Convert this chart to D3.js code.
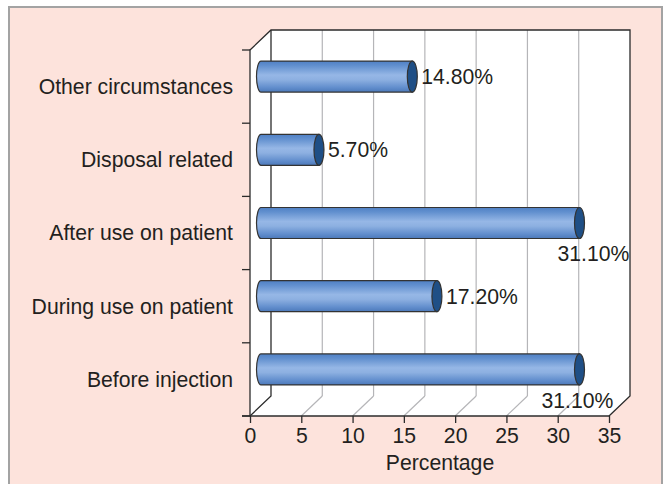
<!DOCTYPE html>
<html>
<head>
<meta charset="utf-8">
<script src="https://cdn.jsdelivr.net/npm/d3@7"></script>
<style>
  html, body { margin: 0; padding: 0; background: #ffffff; }
  svg { display: block; }
  text { font-family: "Liberation Sans", Arial, Helvetica, sans-serif; fill: #231f20; }
</style>
</head>
<body>
<script>
// ---- data ----
const categories = ["Other circumstances", "Disposal related", "After use on patient", "During use on patient", "Before injection"];
const values = [14.8, 5.7, 31.1, 17.2, 31.1];
const valueLabels = ["14.80%", "5.70%", "31.10%", "17.20%", "31.10%"];
const xTickValues = [0, 5, 10, 15, 20, 25, 30, 35];
const xTitle = "Percentage";

// ---- layout ----
const W = 668, H = 484;
const front = { left: 250, right: 609, top: 50, bottom: 416 };
const depth = { dx: 21, dy: -20 };
const barHalf = 15.5, capRx = 5, leftRx = 4.5;
const fontSize = 21.2;

const svg = d3.select("body").append("svg").attr("width", W).attr("height", H);

// panel
svg.append("rect").attr("x", 9).attr("y", 7).attr("width", 653).attr("height", H)
  .attr("fill", "#fde3dc").attr("stroke", "#a3a3a3").attr("stroke-width", 2);

const x = d3.scaleLinear().domain([0, 35]).range([front.left, front.right]);
const y = d3.scaleBand().domain(categories).range([front.top, front.bottom]);

const bx = v => x(v) + depth.dx;           // back wall
const mx = v => x(v) + depth.dx / 2;       // mid depth (bars)
const backTop = front.top + depth.dy, backBottom = front.bottom + depth.dy;

// white box (side wall + back wall + floor)
svg.append("path")
  .attr("d", `M${front.left},${front.top} L${bx(0)},${backTop} L${bx(35)},${backTop} L${bx(35)},${backBottom} L${x(35)},${front.bottom} L${front.left},${front.bottom} Z`)
  .attr("fill", "#ffffff");

// back-wall gridlines and floor diagonals
const grid = svg.append("g").attr("stroke", "#b5b5b8").attr("stroke-width", 1.2).attr("fill", "none");
xTickValues.filter(v => v > 0 && v < 35).forEach(v => {
  grid.append("line").attr("x1", bx(v)).attr("x2", bx(v)).attr("y1", backTop).attr("y2", backBottom);
  grid.append("line").attr("x1", x(v)).attr("y1", front.bottom).attr("x2", bx(v)).attr("y2", backBottom);
});

// dark frame lines
const frame = svg.append("g").attr("stroke", "#2b2b2b").attr("stroke-width", 1.3).attr("fill", "none");
frame.append("path").attr("d",
  `M${front.left},${front.top} L${bx(0)},${backTop} L${bx(35)},${backTop} L${bx(35)},${backBottom} L${x(35)},${front.bottom}`);
frame.append("path").attr("d", `M${bx(0)},${backTop} L${bx(0)},${backBottom} L${front.left},${front.bottom}`);

// left axis (category)
const yAxis = d3.axisLeft(y).tickSize(0).tickPadding(17);
const gy = svg.append("g").attr("transform", `translate(${front.left},0)`).call(yAxis);
gy.select(".domain").attr("stroke", "#2b2b2b").attr("stroke-width", 1.3)
  .attr("d", `M0,${front.top - 0.5}V${front.bottom}`);
gy.selectAll("text").attr("font-size", fontSize).attr("font-family", null).attr("fill", "#231f20")
  .attr("dy", "0.35em");
// boundary ticks
const bounds = categories.map(c => y(c)).concat([front.bottom]);
gy.selectAll("line.bound").data(bounds).join("line").attr("class", "bound")
  .attr("x1", -8).attr("x2", 0).attr("y1", d => d).attr("y2", d => d)
  .attr("stroke", "#2b2b2b").attr("stroke-width", 1.3);

// bottom axis
const xAxis = d3.axisBottom(x).tickValues(xTickValues).tickSize(7).tickPadding(5).tickSizeOuter(0);
const gx = svg.append("g").attr("transform", `translate(0,${front.bottom})`).call(xAxis);
gx.select(".domain").attr("stroke", "#2b2b2b").attr("stroke-width", 1.3)
  .attr("d", `M${x(0) - 8},0H${x(35)}`);
gx.selectAll(".tick line").attr("stroke", "#2b2b2b").attr("stroke-width", 1.3);
gx.selectAll("text").attr("font-size", fontSize).attr("font-family", null).attr("fill", "#231f20");

svg.append("text").attr("x", 440).attr("y", 463).attr("dy", "0.35em")
  .attr("text-anchor", "middle").attr("font-size", fontSize).text(xTitle);

// gradient for cylinders
const defs = svg.append("defs");
const grad = defs.append("linearGradient").attr("id", "cyl").attr("x1", 0).attr("x2", 0).attr("y1", 0).attr("y2", 1);
[["0%", "#4f80c4"], ["15%", "#6290cf"], ["45%", "#96b7e6"], ["60%", "#8db0e1"], ["85%", "#628ecd"], ["100%", "#4c79ba"]]
  .forEach(([o, c]) => grad.append("stop").attr("offset", o).attr("stop-color", c));

// bars
const labelNudge = [0, 0, 14, 0, -2];
const bars = svg.append("g");
categories.forEach((c, i) => {
  const cy = y(c) + y.bandwidth() / 2 + depth.dy / 2;
  const x0 = mx(0) + 0.5;
  const x1 = mx(values[i]);
  bars.append("path")
    .attr("d", `M${x1},${cy - barHalf} L${x0},${cy - barHalf} A${leftRx},${barHalf} 0 0 0 ${x0},${cy + barHalf} L${x1},${cy + barHalf} Z`)
    .attr("fill", "url(#cyl)").attr("stroke", "#333333").attr("stroke-width", 1.2);
  bars.append("ellipse").attr("cx", x1).attr("cy", cy).attr("rx", capRx).attr("ry", barHalf)
    .attr("fill", "#1f4f86").attr("stroke", "#333333").attr("stroke-width", 1.2);

  const overflow = x1 + 80 > bx(35);
  svg.append("text")
    .attr("x", overflow ? x1 + labelNudge[i] : x1 + capRx + 4)
    .attr("y", overflow ? cy + 31 : cy)
    .attr("dy", "0.35em")
    .attr("text-anchor", overflow ? "middle" : "start")
    .attr("font-size", fontSize)
    .text(valueLabels[i]);
});
</script>
</body>
</html>
